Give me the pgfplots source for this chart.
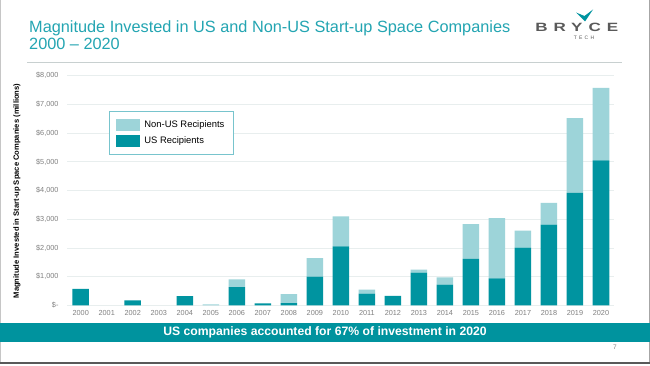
\documentclass[border=0pt]{standalone}
\usepackage{fontspec}
\setmainfont{Liberation Sans}
\newfontfamily\logofont[LetterSpace=35]{Liberation Sans}
\newfontfamily\techfont[LetterSpace=45]{Liberation Sans}
\usepackage{pgfplots}
\pgfplotsset{compat=1.18}
\definecolor{usc}{RGB}{0,148,160}
\definecolor{nonus}{RGB}{157,212,217}
\definecolor{titlec}{RGB}{35,165,178}
\definecolor{gridc}{RGB}{232,238,238}
\definecolor{bannerc}{RGB}{0,147,158}
\definecolor{legc}{RGB}{120,196,205}
\definecolor{tickc}{RGB}{128,128,128}
\definecolor{sepc}{RGB}{200,208,208}
\definecolor{logoc}{RGB}{90,90,90}
\begin{document}
\begin{tikzpicture}
\useasboundingbox (0pt,0pt) rectangle (650pt,365pt);
\fill[white] (0pt,0pt) rectangle (650pt,365pt);
% frame
\draw[gray!45, line width=1pt] (0.6pt,365pt) -- (0.6pt,2pt);
\draw[gray!70, line width=1pt] (649.4pt,365pt) -- (649.4pt,2pt);
\draw[gray!70!black, line width=1.3pt] (0pt,2pt) -- (650pt,2pt);
% title
\node[anchor=base west, inner sep=0pt, font=\fontsize{16.3}{18}\selectfont, text=titlec] at (29pt,332pt) {Magnitude Invested in US and Non-US Start-up Space Companies};
\node[anchor=base west, inner sep=0pt, font=\fontsize{16.3}{18}\selectfont, text=titlec] at (29pt,315pt) {2000 – 2020};
% separator
\draw[sepc, line width=1.5pt] (27pt,302.7pt) -- (621.7pt,302.7pt);
% logo
\node[anchor=base west, inner sep=0pt, xscale=1.42, font=\logofont\bfseries\fontsize{12}{13}\selectfont, text=logoc] at (535pt,333.5pt) {BRYCE};
\node[anchor=base, inner sep=0pt, font=\techfont\fontsize{5}{6}\selectfont, text=logoc] at (584pt,325pt) {TECH};
\fill[usc] (576pt,352.5pt) -- (584.5pt,349pt) -- (593pt,355.5pt) -- (585pt,343.5pt) -- cycle;
% banner
\fill[bannerc] (0pt,22.7pt) rectangle (650pt,42.3pt);
\node[white, font=\bfseries\fontsize{12.2}{13}\selectfont] at (325pt,32.5pt) {US companies accounted for 67\% of investment in 2020};
% page number
\node[font=\fontsize{6.5}{7}\selectfont, text=tickc] at (615pt,18pt) {7};
\begin{axis}[
  at={(67pt,59.7pt)}, anchor=south west, scale only axis,
  width=547pt, height=229.6pt,
  xmin=-0.527, xmax=20.5, ymin=0, ymax=8000,
  axis line style={draw=none},
  tick style={draw=none}, major tick length=0pt,
  ytick={0,1000,2000,3000,4000,5000,6000,7000,8000},
  yticklabels={{\$-\hspace{5pt}},{\$1,000},{\$2,000},{\$3,000},{\$4,000},{\$5,000},{\$6,000},{\$7,000},{\$8,000}},
  xtick={0,1,2,3,4,5,6,7,8,9,10,11,12,13,14,15,16,17,18,19,20},
  xticklabels={2000,2001,2002,2003,2004,2005,2006,2007,2008,2009,2010,2011,2012,2013,2014,2015,2016,2017,2018,2019,2020},
  ticklabel style={font=\fontsize{7.3}{8}\selectfont, text=tickc},
  yticklabel style={xshift=-5pt},
  xticklabel style={yshift=-2pt},
  ymajorgrids, grid style={gridc, line width=0.8pt},
  ybar stacked, bar width=16.5pt,
  every axis y label/.style={at={(axis description cs:-0.0914,0.498)}, rotate=90, anchor=center, font=\bfseries\fontsize{7.6}{8}\selectfont},
  ylabel={Magnitude Invested in Start-up Space Companies (millions)},
  reverse legend, legend cell align=left,
  legend style={at={(0.0768,0.846)}, anchor=north west, draw=legc, line width=0.9pt, fill=white,
    inner xsep=7pt, inner ysep=7.5pt, row sep=3.5pt,
    font=\fontsize{9.4}{10}\selectfont},
]
\addplot[fill=usc, draw=none, legend image code/.code={\fill[usc] (0pt,-6pt) rectangle (24pt,6pt);}] coordinates {
(0,570) (1,0) (2,170) (3,0) (4,320) (5,0) (6,630) (7,70) (8,80) (9,1000) (10,2050)
(11,410) (12,330) (13,1140) (14,720) (15,1620) (16,940) (17,2010) (18,2810) (19,3920) (20,5050)};
\addplot[fill=nonus, draw=none, legend image code/.code={\fill[nonus] (0pt,-6pt) rectangle (24pt,6pt);}] coordinates {
(0,0) (1,0) (2,0) (3,0) (4,0) (5,30) (6,270) (7,0) (8,310) (9,640) (10,1050)
(11,140) (12,0) (13,100) (14,250) (15,1210) (16,2100) (17,590) (18,760) (19,2600) (20,2530)};
\legend{{\hspace{2pt}US Recipients\hspace{5pt}}, {\hspace{2pt}Non-US Recipients\hspace{5pt}}}
\end{axis}
\end{tikzpicture}
\end{document}
